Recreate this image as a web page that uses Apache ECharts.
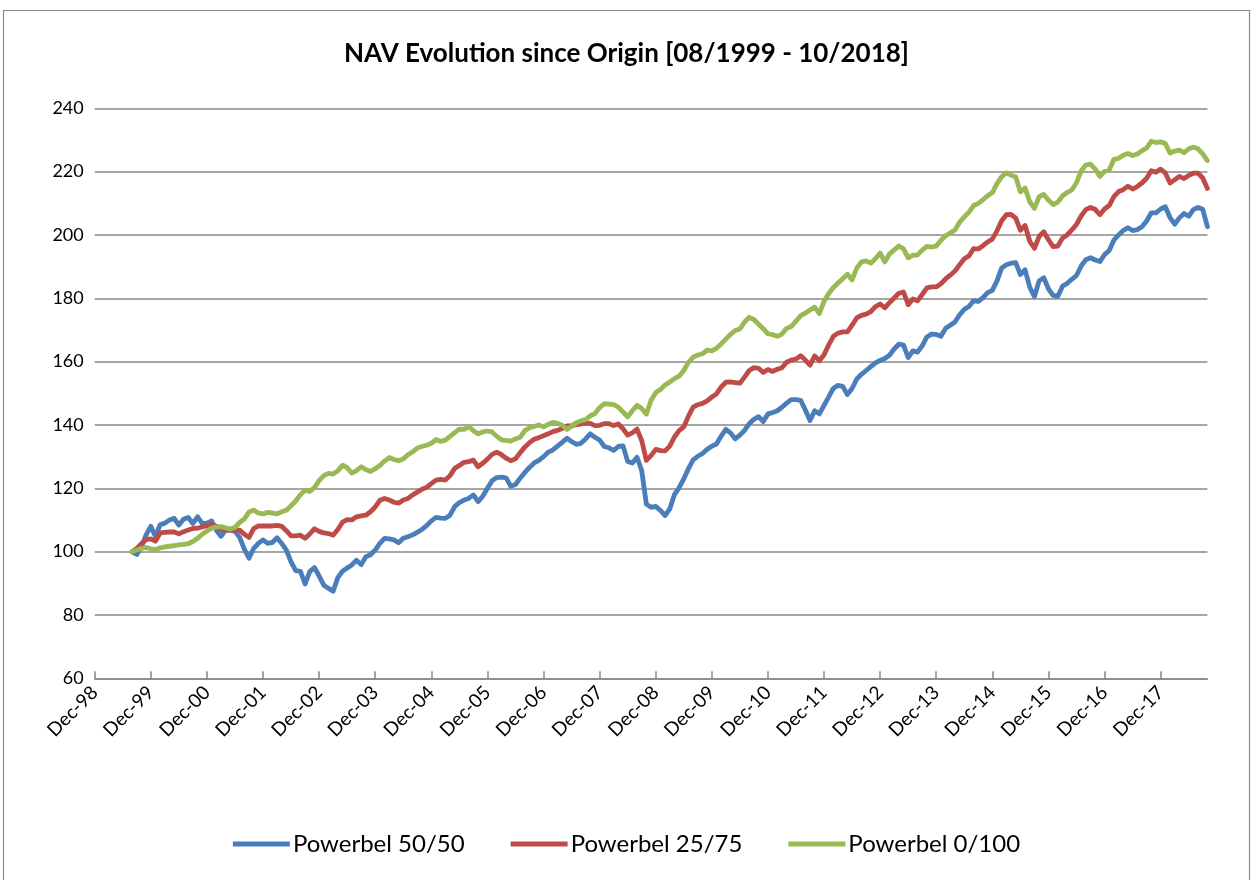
<!DOCTYPE html>
<html>
<head>
<meta charset="utf-8">
<script src="https://cdn.jsdelivr.net/npm/echarts@6/dist/echarts.min.js"></script>
<style>html,body{margin:0;padding:0;background:#fff;}#c{width:1253px;height:880px;}</style>
</head>
<body>
<div id="c"></div>
<script>
// Axis: monthly categories Dec-98 .. Oct-18, data starts Aug-99
const monthNames = ['Jan','Feb','Mar','Apr','May','Jun','Jul','Aug','Sep','Oct','Nov','Dec'];
const axisStart = {year: 1998, month: 11}; // Dec-98
const axisEnd = {year: 2018, month: 9};    // Oct-18
const dataStartIndex = 8;                 // Aug-99
const yTicks = [60, 80, 100, 120, 140, 160, 180, 200, 220, 240];
const seriesNames = ['Powerbel 50/50', 'Powerbel 25/75', 'Powerbel 0/100'];
const titleText = 'NAV Evolution since Origin [08/1999 - 10/2018]';

const categories = [];
for (let y = axisStart.year, m = axisStart.month; y < axisEnd.year || (y === axisEnd.year && m <= axisEnd.month); ) {
  categories.push(monthNames[m] + '-' + String(y % 100).padStart(2, '0'));
  m++; if (m > 11) { m = 0; y++; }
}

const powerbel5050 = [
100,99.1,101.6,105.3,108,104.8,108.5,109,110,110.5,
108.4,110.2,110.8,108.9,111,108.9,109,109.7,106.8,104.8,
106.8,106.8,106.4,104.5,100.8,97.9,101,102.6,103.7,102.6,
102.9,104.4,102.6,100.5,96.8,94,93.8,89.8,93.7,95,
92.3,89.4,88.4,87.5,91.8,93.8,94.8,95.8,97.3,95.9,
98.4,99,100.5,102.6,104.2,104,103.7,102.8,104.2,104.7,
105.3,106.1,107,108.2,109.7,110.8,110.6,110.5,111.5,114.2,
115.5,116.3,116.8,117.9,115.8,117.5,120,122.4,123.4,123.5,
123.3,120.6,121.2,123.2,125,126.6,128,128.8,130,131.4,
132.1,133.3,134.5,135.8,134.8,133.9,134.2,135.6,137.2,136.1,
135.2,133.2,132.8,132,133.2,133.4,128.5,128,129.8,125.6,
115,114,114.3,113,111.4,113.5,118,120.2,123,126.2,
129,130.1,131,132.3,133.3,134,136.5,138.6,137.5,135.6,
136.8,138.3,140.4,141.8,142.6,141.1,143.5,143.9,144.5,145.6,
146.9,148,148,147.8,144.7,141.4,144.5,143.5,146.2,148.9,
151.6,152.5,152.2,149.6,151.5,154.5,156,157.2,158.4,159.6,
160.4,161,162,164,165.5,165.2,161.3,163.4,163,165,
167.8,168.7,168.6,168,170.5,171.5,172.5,174.8,176.5,177.4,
179.2,179,180.2,181.8,182.5,185.5,189.6,190.6,191.1,191.3,
187.5,189,183.5,180.5,185.5,186.5,183,180.9,180.6,183.8,
184.7,186,187.2,190.2,192.2,192.8,192.1,191.6,193.8,195.1,
198.4,200,201.4,202.3,201.4,201.7,202.6,204.4,207,207,
208.2,208.9,205.5,203.4,205.4,206.8,205.9,208,208.7,208.1,
202.6];

const powerbel2575 = [
100,101,102.5,103.8,104,103.3,105.9,106.1,106.2,106.2,
105.6,106.3,106.8,107.3,107.4,107.8,108.2,108.6,108,107,
106.8,106.8,106.8,106.8,105.5,104.5,107.3,108.1,108.1,108.1,
108.1,108.3,108,106.6,105,105,105.2,104.2,105.6,107.2,
106.4,105.9,105.7,105.2,107,109.3,110.1,110,111,111.3,
111.5,112.6,114.1,116.2,116.8,116.3,115.6,115.3,116.3,116.8,
117.9,118.8,119.7,120.3,121.5,122.6,122.8,122.6,124,126.3,
127.2,128.2,128.4,128.9,126.8,127.9,129.2,130.7,131.4,130.6,
129.5,128.7,129.3,131.2,133,134.4,135.5,136,136.6,137.2,
137.9,138.3,138.9,139.7,139.8,140.1,140.3,140.6,140.5,139.8,
139.9,140.4,140.4,139.8,140.3,138.8,136.8,137.5,138.7,135.1,
128.8,130.3,132.3,131.9,131.8,133.3,136.2,138.2,139.4,142.8,
145.6,146.4,146.8,147.6,148.8,149.8,152,153.5,153.6,153.4,
153.2,155.1,157.2,158.1,157.9,156.6,157.5,156.9,157.6,158.1,
159.8,160.5,160.8,161.9,160.5,158.9,161.8,160.3,162.2,165.3,
168,169,169.4,169.4,171.5,173.8,174.6,175,175.8,177.4,
178.2,177,178.6,180.1,181.6,182,178,179.8,179.2,181.2,
183.3,183.6,183.6,184.6,186.1,187.3,188.6,190.6,192.5,193.4,
195.7,195.6,196.6,197.8,198.7,201.3,204.5,206.4,206.5,205.3,
201.5,203,198,195.8,199.5,201,198.5,196.3,196.5,199,
200,201.6,203.3,206,208,208.7,208.1,206.4,208.2,209.3,
212.1,213.7,214.3,215.4,214.5,215.3,216.4,217.9,220.3,219.8,
220.8,219.6,216.4,217.4,218.5,217.8,218.8,219.5,219.5,218,
214.7];

const powerbel0100 = [
100,100.5,101,101.3,100.9,100.6,101.2,101.5,101.7,101.9,
102.1,102.3,102.5,103.2,104.2,105.5,106.5,107.4,107.8,107.9,
107.5,107.1,107.7,109.2,110.3,112.5,113.1,112.2,111.9,112.4,
112.2,111.9,112.6,113.1,114.5,116,118,119.4,119,120.2,
122.4,124,124.7,124.5,125.5,127.3,126.5,124.8,125.6,126.8,
125.9,125.3,126.2,127.2,128.6,129.7,129.1,128.7,129.3,130.6,
131.5,132.7,133.2,133.6,134.2,135.4,134.8,135.2,136.4,137.6,
138.7,138.6,139.5,138.2,137.2,137.8,138.1,137.8,136.4,135.3,
135.1,134.9,135.6,136.1,138.2,139.1,139.5,140,139.4,140.2,
140.8,140.5,139.9,138.6,139.6,140.7,141.3,141.7,142.9,143.6,
145.5,146.7,146.6,146.4,145.6,144.1,142.6,144.5,146.2,145.2,
143.4,147.8,150.2,151.2,152.6,153.6,154.6,155.4,157.2,159.8,
161.4,162.1,162.5,163.6,163.4,164.2,165.6,167.1,168.6,169.8,
170.3,172.5,174,173.3,171.8,170.4,168.8,168.5,168,168.7,
170.5,171.1,172.8,174.5,175.3,176.3,177.2,175.2,179,181.5,
183.4,184.8,186.2,187.6,185.8,189.5,191.5,191.8,191.1,192.5,
194.3,191.5,194,195.3,196.5,195.6,192.8,193.6,193.7,195.2,
196.4,196.2,196.5,198.3,199.7,200.6,201.6,204,205.7,207.2,
209.3,210,211.1,212.4,213.4,216.2,218.4,219.6,218.9,218.3,
213.6,214.8,210.5,208.4,212,212.8,211,209.6,210.4,212.3,
213.4,214.2,216.5,220.2,222.1,222.4,220.8,218.5,220.1,220.5,
223.9,224.2,225.2,225.7,225.1,225.6,226.6,227.4,229.6,229.2,
229.4,228.9,225.9,226.5,226.8,226,227.2,227.7,227.2,225.6,
223.5];

const colors = ['#4A7EBB', '#BE4B48', '#98B954'];
const pad = arr => new Array(dataStartIndex).fill(null).concat(arr);
const isDec = (i, v) => String(v).indexOf('Dec') === 0;

const chart = echarts.init(document.getElementById('c'), null, {renderer: 'canvas'});
const FONT = 'Lato, "Open Sans", sans-serif';
chart.setOption({
  animation: false,
  backgroundColor: '#fff',
  color: colors,
  title: {
    text: titleText, left: 'center', top: 36,
    textStyle: {fontFamily: FONT, fontSize: 26, fontWeight: 'bold', color: '#000'}
  },
  legend: {
    bottom: 19, left: 'center', itemGap: 46, itemWidth: 57, itemHeight: 5, icon: 'rect',
    textStyle: {fontFamily: FONT, fontSize: 24, color: '#000', padding: [0, 0, 0, -2]},
    data: seriesNames
  },
  grid: {left: 94.7, right: 1253 - 1207.4, top: 108.3, height: 570, containLabel: false},
  xAxis: {
    type: 'category', data: categories, boundaryGap: false,
    axisLine: {lineStyle: {color: '#868686', width: 1.5}},
    axisTick: {show: true, inside: true, length: 7, interval: isDec, lineStyle: {color: '#868686', width: 1.5}},
    axisLabel: {interval: isDec, rotate: 45, fontFamily: FONT, fontSize: 19, color: '#000', margin: 11},
    splitLine: {show: false}
  },
  yAxis: {
    type: 'value', min: yTicks[0], max: yTicks[yTicks.length - 1], interval: yTicks[1] - yTicks[0],
    axisLine: {show: false}, axisTick: {show: false},
    axisLabel: {fontFamily: FONT, fontSize: 18, color: '#000', margin: 11},
    splitLine: {lineStyle: {color: '#898989', width: 1.6}}
  },
  graphic: [{
    type: 'rect', silent: true, z: -1,
    shape: {x: 3.5, y: 10.5, width: 1246, height: 880},
    style: {fill: 'none', stroke: '#8c8c8c', lineWidth: 1.2}
  }],
  series: [
    {name: seriesNames[0], type: 'line', data: pad(powerbel5050)},
    {name: seriesNames[1], type: 'line', data: pad(powerbel2575)},
    {name: seriesNames[2], type: 'line', data: pad(powerbel0100)}
  ].map(s => Object.assign(s, {
    showSymbol: false, symbol: 'none', connectNulls: false,
    lineStyle: {width: 4.8, join: 'round', cap: 'round'}
  }))
});
</script>
</body>
</html>
